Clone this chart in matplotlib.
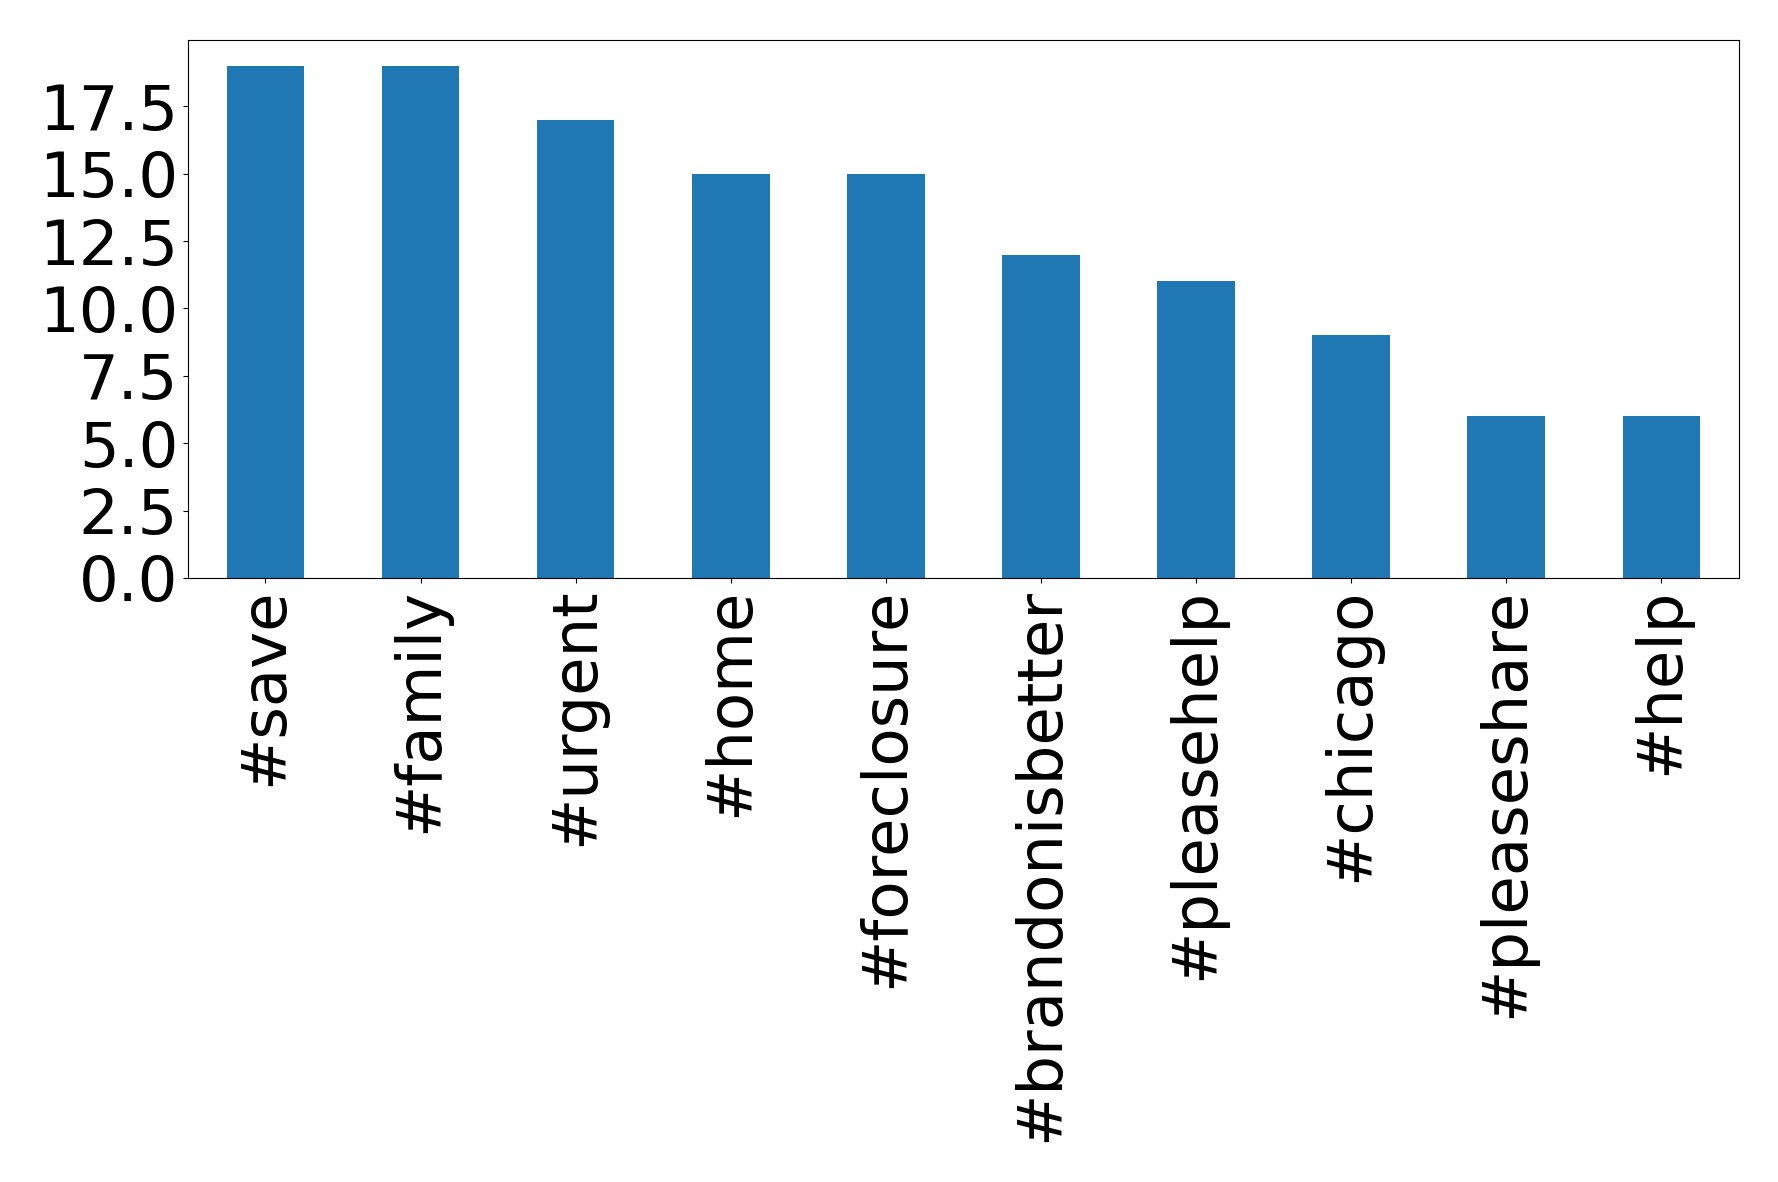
import matplotlib
matplotlib.use("Agg")
import matplotlib.pyplot as plt

categories = ["#save", "#family", "#urgent", "#home", "#foreclosure",
              "#brandonisbetter", "#pleasehelp", "#chicago", "#pleaseshare", "#help"]
counts = [19, 19, 17, 15, 15, 12, 11, 9, 6, 6]

fig = plt.figure(figsize=(17.78, 11.82), dpi=100)
ax = fig.add_axes([0.1057, 0.511, 0.978 - 0.1057, 0.966 - 0.511])
x = list(range(len(categories)))
ax.bar(x, counts, width=0.5, color="#1f77b4")
ax.set_xlim(-0.5, len(categories) - 0.5)
ax.set_xticks(x)
ax.set_xticklabels(categories, rotation=90, fontsize=45)
ax.tick_params(axis="y", labelsize=45)
ax.set_yticks([0, 2.5, 5, 7.5, 10, 12.5, 15, 17.5])
ax.set_yticklabels(["0.0", "2.5", "5.0", "7.5", "10.0", "12.5", "15.0", "17.5"])
fig.savefig("out.png", dpi=100)
